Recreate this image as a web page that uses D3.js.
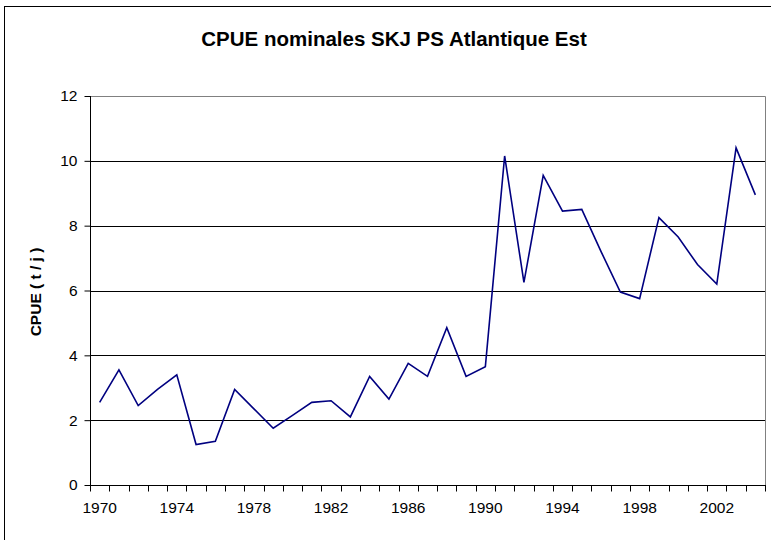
<!DOCTYPE html>
<html>
<head>
<meta charset="utf-8">
<script src="https://cdn.jsdelivr.net/npm/d3@7"></script>
<style>
  body { margin: 0; background: #fff; }
  text { font-family: Arial, "Liberation Sans", sans-serif; }
</style>
</head>
<body>
<div id="chart"></div>
<script>
let years = d3.range(1970, 2005);
let cpue = [2.55, 3.55, 2.45, 2.95, 3.4, 1.25, 1.35, 2.95, 2.35, 1.75,
            2.15, 2.55, 2.6, 2.1, 3.35, 2.65, 3.75, 3.35, 4.85, 3.35,
            3.65, 10.15, 6.25, 9.55, 8.45, 8.5, 7.2, 5.95, 5.75, 8.25,
            7.65, 6.8, 6.2, 10.4, 8.95];
let yTicks = [0, 2, 4, 6, 8, 10, 12];
let xLabels = [1970, 1974, 1978, 1982, 1986, 1990, 1994, 1998, 2002];

let width = 771,
height = 540;

let svg = d3.select("#chart")
.append("svg")
.attr("width", width)
.attr("height", height);

// cadre du graphique
svg.append("rect")
.attr("x", 4.5)
.attr("y", 6.5)
.attr("width", 780)
.attr("height", 560)
.attr("fill", "#fff")
.attr("stroke", "#000")
.attr("stroke-width", 1);

let pLeft = 90, pRight = 765, pTop = 96, pBottom = 485;

let x = d3.scaleBand()
.domain(years)
.range([pLeft, pRight]);

let y = d3.scaleLinear()
.domain([0, 12])
.range([pBottom, pTop]);

// grille
svg.append("g")
.selectAll("line")
.data(yTicks.filter(d => d > 0 && d < 12))
.enter().append("line")
.attr("x1", pLeft)
.attr("x2", pRight)
.attr("y1", d => Math.round(y(d)) + 0.5)
.attr("y2", d => Math.round(y(d)) + 0.5)
.attr("stroke", "#000")
.attr("stroke-width", 1);

// bord de la zone de tracé
svg.append("path")
.attr("d", `M${pLeft},${pTop + 0.5}H${pRight + 0.5}V${pBottom}`)
.attr("fill", "none")
.attr("stroke", "#808080")
.attr("stroke-width", 1);

// axe Y
let yAxis = svg.append("g")
.attr("transform", `translate(${pLeft + 0.5},0)`)
.call(d3.axisLeft(y).tickValues(yTicks).tickSize(6).tickPadding(7));
yAxis.select(".domain").attr("stroke", "#000").attr("d", `M0,${pTop}V${pBottom}`);
yAxis.selectAll(".tick line").attr("stroke", "#000");
yAxis.selectAll("text")
.attr("font-size", "15.5px")
.attr("fill", "#000")
.attr("font-family", "Arial, 'Liberation Sans', sans-serif");

// axe X : graduations entre catégories
let xAxis = svg.append("g")
.attr("transform", `translate(0,${pBottom + 0.5})`);
xAxis.append("line")
.attr("x1", pLeft)
.attr("x2", pRight + 1)
.attr("stroke", "#000");
xAxis.selectAll(".tk")
.data(years.concat([2005]))
.enter().append("line")
.attr("class", "tk")
.attr("x1", d => Math.round(d < 2005 ? x(d) : pRight) + 0.5)
.attr("x2", d => Math.round(d < 2005 ? x(d) : pRight) + 0.5)
.attr("y1", 0)
.attr("y2", 6)
.attr("stroke", "#000");
xAxis.selectAll("text")
.data(xLabels)
.enter().append("text")
.attr("x", d => x(d) + x.bandwidth() / 2)
.attr("y", 27)
.attr("text-anchor", "middle")
.attr("font-size", "15.5px")
.text(d => d);

// courbe
let line = d3.line()
.x((d, i) => x(years[i]) + x.bandwidth() / 2)
.y(d => y(d));

svg.append("path")
.datum(cpue)
.attr("d", line)
.attr("fill", "none")
.attr("stroke", "#000080")
.attr("stroke-width", 1.6)
.attr("stroke-linejoin", "miter");

// titre
svg.append("text")
.attr("x", 394)
.attr("y", 46)
.attr("text-anchor", "middle")
.attr("font-size", "20.5px")
.attr("font-weight", "bold")
.text("CPUE nominales SKJ PS Atlantique Est");

// titre axe Y
svg.append("text")
.attr("transform", "translate(41,292) rotate(-90)")
.attr("text-anchor", "middle")
.attr("font-size", "15.5px")
.attr("font-weight", "bold")
.text("CPUE ( t / j )");
</script>
</body>
</html>
